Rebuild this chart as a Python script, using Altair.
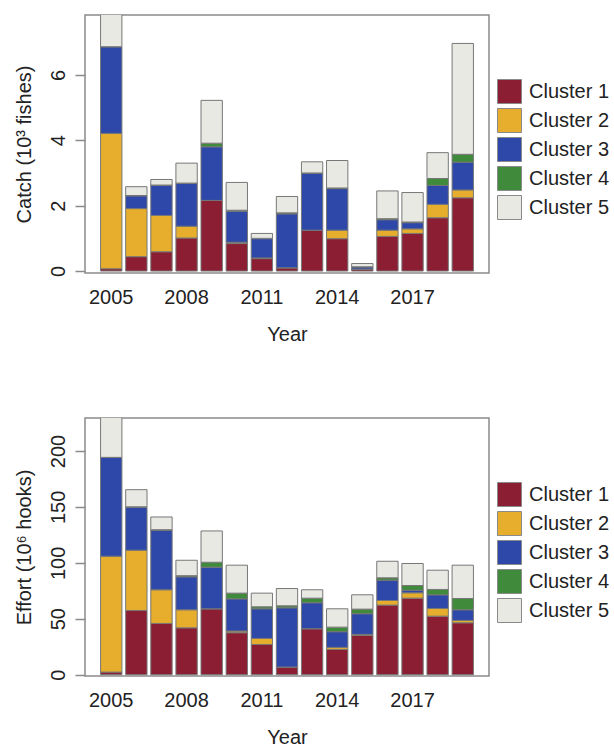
import altair as alt
import pandas as pd

# Years and clusters
years = list(range(2005, 2020))
clusters = ["Cluster 1", "Cluster 2", "Cluster 3", "Cluster 4", "Cluster 5"]
cluster_colors = ["#8b1e32", "#e6ae2c", "#2d48a8", "#3f8a3b", "#e9e9e4"]

# Catch by cluster (10^3 fishes)
catch_c1 = [0.07, 0.44, 0.59, 1.01, 2.16, 0.84, 0.38, 0.10, 1.25, 0.99, 0.06, 1.06, 1.15, 1.63, 2.24]
catch_c2 = [4.14, 1.47, 1.11, 0.36, 0.00, 0.04, 0.02, 0.00, 0.00, 0.26, 0.00, 0.19, 0.14, 0.41, 0.24]
catch_c3 = [2.65, 0.39, 0.92, 1.31, 1.64, 0.95, 0.59, 1.65, 1.74, 1.27, 0.07, 0.32, 0.19, 0.58, 0.85]
catch_c4 = [0.00, 0.01, 0.01, 0.01, 0.11, 0.03, 0.01, 0.03, 0.01, 0.02, 0.00, 0.03, 0.02, 0.21, 0.24]
catch_c5 = [1.10, 0.27, 0.17, 0.61, 1.31, 0.85, 0.15, 0.50, 0.34, 0.84, 0.10, 0.85, 0.90, 0.79, 3.39]

# Effort by cluster (10^6 hooks)
effort_c1 = [2.3, 57.4, 45.8, 41.9, 58.9, 37.5, 27.0, 6.8, 41.1, 22.6, 35.1, 62.2, 68.4, 52.3, 46.4]
effort_c2 = [103.6, 53.9, 30.1, 16.1, 0.0, 1.5, 5.4, 0.0, 0.0, 1.8, 0.9, 4.1, 4.8, 6.9, 2.1]
effort_c3 = [88.4, 38.3, 53.2, 29.5, 37.2, 28.8, 26.5, 53.0, 23.2, 14.0, 18.5, 18.2, 2.3, 12.2, 9.5]
effort_c4 = [0.0, 0.5, 0.5, 1.0, 4.4, 5.1, 1.8, 1.8, 4.1, 4.1, 4.1, 2.1, 4.2, 4.8, 10.1]
effort_c5 = [40.0, 15.3, 11.4, 13.8, 28.0, 25.0, 12.2, 15.4, 7.5, 16.4, 12.8, 14.8, 19.7, 17.2, 29.8]

year_labels = [2005, 2008, 2011, 2014, 2017]
FONT = "Liberation Sans"
FS = 20
GREY = "#8a8a8a"


def long_table(series):
    rows = []
    for k, (name, vals) in enumerate(zip(clusters, series)):
        for yr, v in zip(years, vals):
            rows.append({"year": yr, "cluster": name, "value": v, "k": k})
    return pd.DataFrame(rows)


def panel(df, ytitle, ydomain, yticks):
    return (
        alt.Chart(df)
        .mark_bar(stroke="#777777", strokeWidth=1, clip=True)
        .encode(
            x=alt.X(
                "year:O",
                scale=alt.Scale(paddingInner=0.15, paddingOuter=0.62),
                axis=alt.Axis(
                    values=year_labels, labelAngle=0, ticks=False, tickSize=0,
                    domain=False, labelPadding=14, titlePadding=17, title="Year",
                ),
            ),
            y=alt.Y(
                "value:Q",
                stack="zero",
                scale=alt.Scale(domain=ydomain, nice=False, zero=False),
                axis=alt.Axis(
                    values=yticks, labelAngle=-90, tickSize=10, tickWidth=1.5,
                    tickColor=GREY, domain=False, grid=False, labelPadding=7,
                    titlePadding=14, title=ytitle,
                ),
            ),
            color=alt.Color(
                "cluster:N",
                scale=alt.Scale(domain=clusters, range=cluster_colors),
                legend=alt.Legend(
                    title=None, orient="none", legendX=412, legendY=64,
                    symbolType="square", symbolSize=576, symbolOpacity=1,
                    symbolStrokeColor=GREY, symbolStrokeWidth=1,
                    rowPadding=0, labelOffset=7, labelFont=FONT,
                    labelFontSize=FS, labelColor="#222222",
                ),
            ),
            order=alt.Order("k:Q", sort="ascending"),
        )
        .properties(width=404, height=258)
    )


catch_df = long_table([catch_c1, catch_c2, catch_c3, catch_c4, catch_c5])
effort_df = long_table([effort_c1, effort_c2, effort_c3, effort_c4, effort_c5])

top = panel(catch_df, "Catch (10³ fishes)", [-0.06, 7.83], [0, 2, 4, 6])
bottom = panel(effort_df, "Effort (10⁶ hooks)", [-1.2, 229.5], [0, 50, 100, 150, 200])

chart = (
    alt.vconcat(top, bottom, spacing=72)
    .resolve_scale(color="independent")
    .properties(
        padding={"left": 13, "top": 14, "right": 0, "bottom": 0},
        background="white",
    )
    .configure_view(stroke=GREY, strokeWidth=1.5)
    .configure_axis(
        labelFont=FONT, titleFont=FONT, labelFontSize=FS, titleFontSize=FS,
        labelColor="#222222", titleColor="#222222", titleFontWeight="normal",
    )
)

chart.save("out.html", embed_options={"renderer": "svg", "actions": False})
